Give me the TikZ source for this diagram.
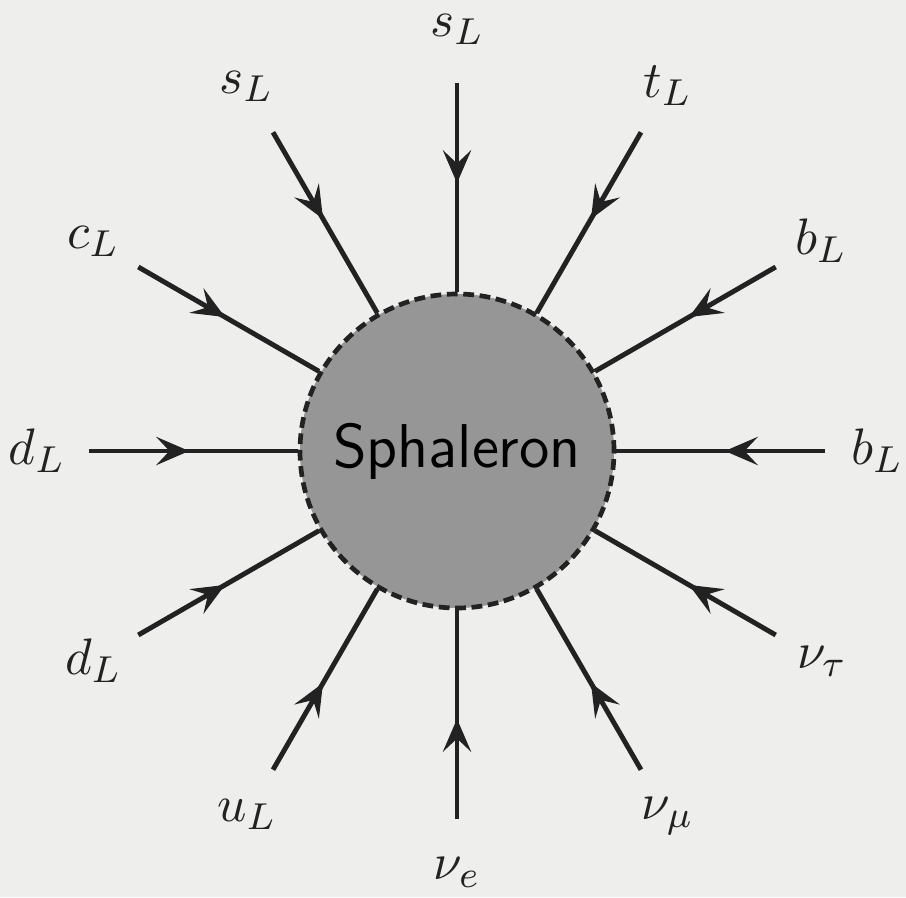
\documentclass[tikz,border=0pt]{standalone}
\usepackage{amsmath}
\usepackage{xcolor}
\usepackage{tikz}
\usetikzlibrary{arrows.meta, decorations.markings}

\definecolor{paper}{RGB}{238,238,236}
\definecolor{blob}{RGB}{150,150,150}
\definecolor{ink}{RGB}{34,34,34}

\begin{document}
\begin{tikzpicture}[
    sphaleron/.style={
        circle,
        draw=ink,
        fill=blob,
        line width=1pt,
        dash pattern=on 2.3pt off 1.2pt,
        minimum size=2.355cm,
        inner sep=0pt,
        font=\sffamily\fontsize{13.2}{15}\selectfont
    },
    lbl/.style={inner sep=0pt, text=ink, font=\fontsize{11.3}{13}\selectfont},
    fermion/.style={
        draw=ink,
        line width=1.05pt,
        postaction={decorate},
        decoration={markings,
            mark=at position 0.48 with {\arrow{Stealth[length=7pt, width=6pt, inset=2.8pt]}}}
    }
]

\fill[paper] (-3.4275,-3.345) rectangle (3.3675,3.3825);
\useasboundingbox (-3.4275,-3.345) rectangle (3.3675,3.3825);

\node[sphaleron] (sph) at (0,0) {Sphaleron};

% outer ends of the legs
\coordinate (e0)   at (0:2.76);
\coordinate (e30)  at (30:2.76);
\coordinate (e60)  at (60:2.76);
\coordinate (e90)  at (90:2.76);
\coordinate (e120) at (120:2.76);
\coordinate (e150) at (150:2.76);
\coordinate (e180) at (180:2.76);
\coordinate (e210) at (210:2.76);
\coordinate (e240) at (240:2.76);
\coordinate (e270) at (270:2.76);
\coordinate (e300) at (300:2.76);
\coordinate (e330) at (330:2.76);

% particle labels
\node[lbl] (bR)   at (0:3.15)   {$b_L$};
\node[lbl] (bU)   at (30:3.15)  {$b_L$};
\node[lbl] (tL)   at (60:3.16)  {$t_L$};
\node[lbl] (sTop) at (90:3.16)  {$s_L$};
\node[lbl] (sUp)  at (120:3.16) {$s_L$};
\node[lbl] (cL)   at (150:3.15) {$c_L$};
\node[lbl] (dLf)  at (180:3.15) {$d_L$};
\node[lbl] (dLo)  at (210:3.15) {$d_L$};
\node[lbl] (uL)   at (240:3.15) {$u_L$};
\node[lbl] (nuE)  at (270:3.16) {$\nu_e$};
\node[lbl] (nuM)  at (300:3.16) {$\nu_\mu$};
\node[lbl] (nuT)  at (330:3.16) {$\nu_\tau$};

\draw[fermion] (e0)   -- (sph);
\draw[fermion] (e30)  -- (sph);
\draw[fermion] (e60)  -- (sph);
\draw[fermion] (e90)  -- (sph);
\draw[fermion] (e120) -- (sph);
\draw[fermion] (e150) -- (sph);
\draw[fermion] (e180) -- (sph);
\draw[fermion] (e210) -- (sph);
\draw[fermion] (e240) -- (sph);
\draw[fermion] (e270) -- (sph);
\draw[fermion] (e300) -- (sph);
\draw[fermion] (e330) -- (sph);

\end{tikzpicture}
\end{document}
